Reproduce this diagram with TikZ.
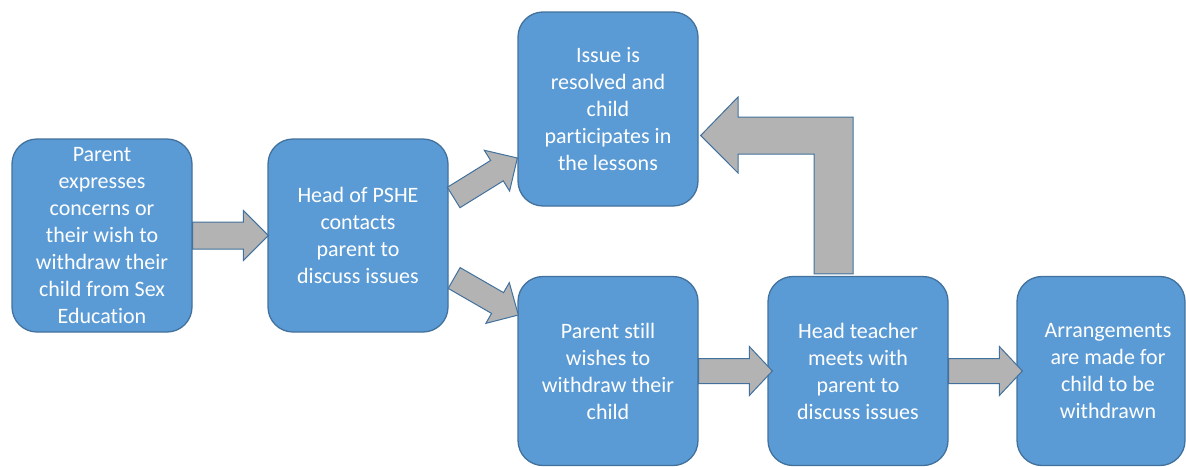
\documentclass[tikz,border=0pt]{standalone}
\usepackage{fontspec}
\setmainfont{Carlito}[Ligatures=NoCommon]
\usetikzlibrary{calc}
\definecolor{boxfill}{HTML}{5B9BD5}
\definecolor{boxline}{HTML}{41719C}
\definecolor{arrfill}{HTML}{B3B3B3}
\tikzset{
  boxtext/.style={text=white, align=center, font=\fontsize{22}{27}\selectfont, inner sep=0pt},
  box/.style={boxtext, draw=boxline, line width=1.3pt, fill=boxfill, rounded corners=25pt,
    minimum width=180pt, minimum height=193pt},
  blockarr/.style={draw=boxline, line width=1pt, fill=arrfill, line join=miter},
}
% tail, tip, half shaft width, half head width, head length
\newcommand{\blockarrow}[5]{%
  \path ($(#2)!#5!(#1)$) coordinate (hb);
  \draw[blockarr] ($(#1)!#3!90:(#2)$) -- ($(hb)!#3!90:(#2)$) -- ($(hb)!#4!90:(#2)$) -- (#2)
    -- ($(hb)!#4!-90:(#2)$) -- ($(hb)!#3!-90:(#2)$) -- ($(#1)!#3!-90:(#2)$) -- cycle;
}
\begin{document}
\begin{tikzpicture}[x=1pt,y=-1pt]
\useasboundingbox (0,0) rectangle (1186,466);
\clip (0,0) rectangle (1186,466);

\node[box] (b1) at (102,235.5) {Parent\\expresses\\concerns or\\their wish to\\withdraw their\\child from Sex\\Education};
\node[box] (b2) at (358,235.5) {Head of PSHE\\contacts\\parent to\\discuss issues};
\node[box, minimum height=194pt] (b3) at (608,109) {Issue is\\resolved and\\child\\participates in\\the lessons};
\node[box, minimum height=189pt] (b4) at (608,371) {Parent still\\wishes to\\withdraw their\\child};
\node[box, minimum height=189pt] (b5) at (858,371) {Head teacher\\meets with\\parent to\\discuss issues};
\node[box, minimum height=189pt, minimum width=168pt] (b6) at (1101,371) {};
\node[boxtext] (b6t) at (1108,371) {Arrangements\\are made for\\child to be\\withdrawn};

% straight block arrows
\coordinate (a1s) at (b1.east);
\coordinate (a1e) at ($(b2.west)+(1,0)$);
\blockarrow{a1s}{a1e}{13.5pt}{25pt}{25pt}

\coordinate (a2s) at ($(b2.east)+(5,-38)$);
\coordinate (a2e) at ($(b3.west)+(0,49)$);
\blockarrow{a2s}{a2e}{12pt}{24pt}{24pt}

\coordinate (a3s) at ($(b2.east)+(5.5,42.5)$);
\coordinate (a3e) at ($(b4.west)+(1,-56)$);
\blockarrow{a3s}{a3e}{12pt}{23.5pt}{24pt}

\coordinate (a4s) at (b4.east);
\coordinate (a4e) at ($(b5.west)+(5,0)$);
\blockarrow{a4s}{a4e}{12.5pt}{24.5pt}{23pt}

\coordinate (a5s) at (b5.east);
\coordinate (a5e) at ($(b6.west)+(6,0)$);
\blockarrow{a5s}{a5e}{12.5pt}{24.5pt}{23pt}

% bent arrow from b5 up and left to b3
\coordinate (bl) at ($(b5.north)+(-44,-2)$);
\coordinate (br) at ($(b5.north)+(-5,-2)$);
\coordinate (tip) at ($(b3.east)+(2,26.5)$);
\draw[blockarr] (bl) -- (bl|-0,154) -- (738,154) -- (738,173) -- (tip) -- (738,97) -- (738,117)
  -- (br|-0,117) -- (br) -- cycle;
\end{tikzpicture}
\end{document}
